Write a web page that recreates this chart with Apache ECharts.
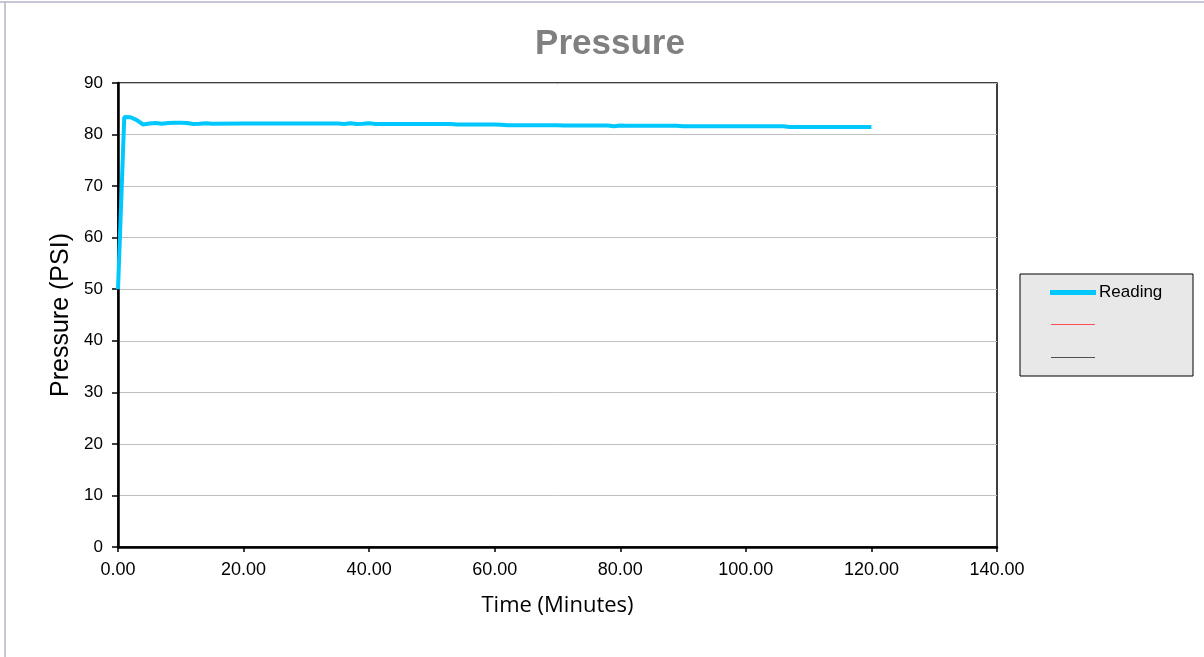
<!DOCTYPE html>
<html>
<head>
<meta charset="utf-8">
<script src="https://cdn.jsdelivr.net/npm/echarts@6/dist/echarts.min.js"></script>
<style>
html,body{margin:0;padding:0;background:#fff;}
#chart{width:1204px;height:657px;}
</style>
</head>
<body>
<div id="chart"></div>
<script>
const times = [0,1,2,3,4,5,6,7,8,9,10,11,12,13,14,15,20,25,30,35,36,37,38,39,40,41,45,50,53,54,55,60,61,62,70,71,78,79,80,81,89,90,100,106,107,120];
const readings = [50,83.4,83.35,82.8,81.95,82.15,82.25,82.1,82.25,82.3,82.3,82.25,82.05,82.1,82.2,82.1,82.15,82.15,82.15,82.15,82.05,82.2,82.05,82.1,82.2,82.05,82.05,82.05,82.05,81.95,81.95,81.95,81.9,81.8,81.8,81.75,81.75,81.6,81.75,81.7,81.7,81.62,81.62,81.62,81.48,81.48];
const legendKeyColors = ['#ff5050','#505050'];
const xTicks = {min:0, max:140, interval:20};
const yTicks = {min:0, max:90, interval:10};

const pairs = times.map((t,i)=>[t, readings[i]]);
const chart = echarts.init(document.getElementById('chart'));
const FONT = '"Liberation Sans", Arial, sans-serif';
chart.setOption({
  animation:false,
  backgroundColor:'#fff',
  textStyle:{fontFamily:FONT},
  title:{text:'Pressure', left:605, textAlign:'center', top:22,
    textStyle:{fontSize:35, fontWeight:'bold', color:'#808080', fontFamily:FONT}},
  grid:{left:118, right:207, top:83, bottom:110, show:true, borderColor:'#000', borderWidth:1.5, backgroundColor:'#fff'},
  xAxis:{type:'value', min:xTicks.min, max:xTicks.max, interval:xTicks.interval,
    name:'Time (Minutes)', nameLocation:'middle', nameGap:48,
    nameTextStyle:{fontSize:22, color:'#000', fontFamily:'"Open Sans", sans-serif'},
    axisLine:{show:true, onZero:false, lineStyle:{color:'#000', width:2.5}},
    axisTick:{show:true, length:5, lineStyle:{color:'#000', width:1.5}},
    axisLabel:{fontSize:18, color:'#000', margin:14, formatter:v=>v.toFixed(2)},
    splitLine:{show:false}},
  yAxis:{type:'value', min:yTicks.min, max:yTicks.max, interval:yTicks.interval,
    name:'Pressure (PSI)', nameLocation:'middle', nameGap:44, nameRotate:90,
    nameTextStyle:{fontSize:25, color:'#000', fontFamily:FONT},
    axisLine:{show:true, onZero:false, lineStyle:{color:'#000', width:2.5}},
    axisTick:{show:true, length:6, lineStyle:{color:'#000', width:1.5}},
    axisLabel:{fontSize:17, color:'#000', margin:15},
    splitLine:{show:true, lineStyle:{color:'#c0c0c0', width:1}}},
  legend:{orient:'vertical', left:1050, top:284, itemWidth:46, itemHeight:20,
    padding:0, z:10,
    textStyle:{fontSize:17, color:'#000', padding:[0,0,0,-2]},
    data:[{name:'Reading', icon:'path://M0,0 L46,0 L46,5 L0,5 Z', itemStyle:{color:'#00c8ff'}}]},
  graphic:[
    {type:'rect', z:1, shape:{x:1020, y:274, width:173, height:102}, style:{fill:'#e8e8e8', stroke:'#000', lineWidth:1}},
    {type:'line', z:2, shape:{x1:1051, y1:324.5, x2:1095, y2:324.5}, style:{stroke:legendKeyColors[0], lineWidth:1}},
    {type:'line', z:2, shape:{x1:1051, y1:357.5, x2:1095, y2:357.5}, style:{stroke:legendKeyColors[1], lineWidth:1}},
    {type:'line', z:1, shape:{x1:0, y1:2, x2:1204, y2:2}, style:{stroke:'#b4b4c8', lineWidth:1.5}},
    {type:'line', z:1, shape:{x1:5, y1:2, x2:5, y2:657}, style:{stroke:'#b4b4c8', lineWidth:1.5}}
  ],
  series:[
    {name:'Reading', type:'line', data:pairs, symbol:'none', smooth:false,
      lineStyle:{color:'#00c8ff', width:4}, itemStyle:{color:'#00c8ff'}, z:3}
  ]
});
</script>
</body>
</html>
